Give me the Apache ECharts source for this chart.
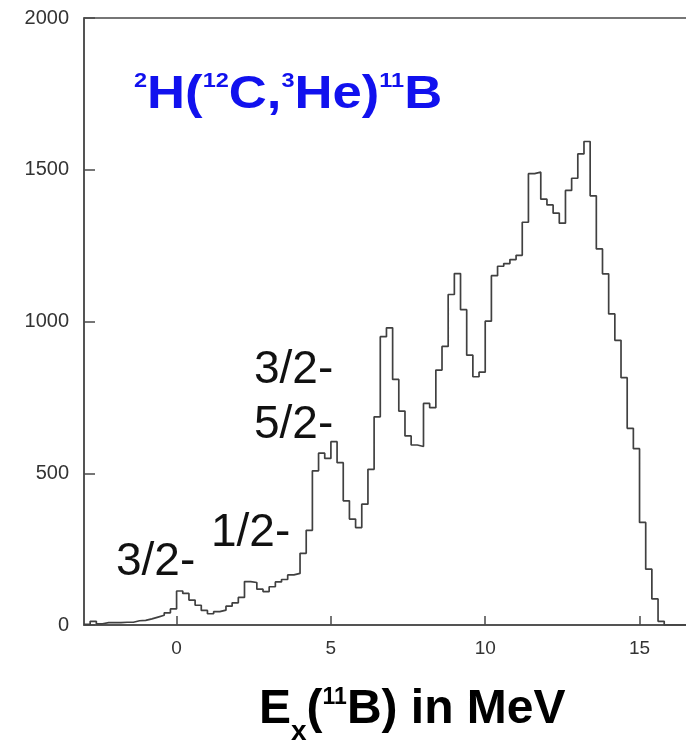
<!DOCTYPE html>
<html>
<head>
<meta charset="utf-8">
<script src="https://cdn.jsdelivr.net/npm/echarts@6/dist/echarts.min.js"></script>
<style>
  html, body { margin: 0; padding: 0; background: #fff; }
  #chart { width: 686px; height: 740px; }
</style>
</head>
<body>
<div id="chart"></div>
<script>
// left edge of each 0.2 MeV bin
var binLeft = [
  -3.0, -2.8, -2.6, -2.4, -2.2, -2.0, -1.8, -1.6, -1.4, -1.2,
  -1.0, -0.8, -0.6, -0.4, -0.2, 0.0, 0.2, 0.4, 0.6, 0.8,
  1.0, 1.2, 1.4, 1.6, 1.8, 2.0, 2.2, 2.4, 2.6, 2.8,
  3.0, 3.2, 3.4, 3.6, 3.8, 4.0, 4.2, 4.4, 4.6, 4.8,
  5.0, 5.2, 5.4, 5.6, 5.8, 6.0, 6.2, 6.4, 6.6, 6.8,
  7.0, 7.2, 7.4, 7.6, 7.8, 8.0, 8.2, 8.4, 8.6, 8.8,
  9.0, 9.2, 9.4, 9.6, 9.8, 10.0, 10.2, 10.4, 10.6, 10.8,
  11.0, 11.2, 11.4, 11.6, 11.8, 12.0, 12.2, 12.4, 12.6, 12.8,
  13.0, 13.2, 13.4, 13.6, 13.8, 14.0, 14.2, 14.4, 14.6, 14.8,
  15.0, 15.2, 15.4, 15.6, 15.8, 16.0, 16.2, 16.4, 16.6
];
// counts per bin
var counts = [
  2, 12, 4, 8, 8, 8, 9, 9, 14, 15,
  20, 26, 32, 40, 53, 112, 104, 82, 65, 48,
  37, 44, 49, 62, 73, 91, 143, 140, 118, 110,
  126, 142, 150, 165, 170, 236, 312, 508, 566, 549,
  604, 535, 409, 349, 321, 398, 513, 686, 950, 979,
  809, 705, 623, 593, 588, 730, 716, 840, 918, 1089,
  1158, 1039, 889, 818, 833, 1001, 1151, 1182, 1191, 1204,
  1218, 1327, 1487, 1492, 1403, 1384, 1357, 1324, 1432, 1472,
  1552, 1593, 1414, 1239, 1157, 1025, 938, 815, 648, 581,
  338, 184, 86, 12, 0, 0, 0, 0, 0
];
var xTicks = [0, 5, 10, 15];
var stateLabels = ["3/2-", "1/2-", "3/2-", "5/2-"];

var chart = echarts.init(document.getElementById("chart"));
var font = "Liberation Sans, Arial, Helvetica, sans-serif";
var axisColor = "#4a4a4a";

var data = [];
for (var i = 0; i < binLeft.length; i++) {
  data.push([binLeft[i], counts[i]]);
}

var option = {
  animation: false,
  backgroundColor: "#fff",
  grid: {
    left: 84,
    top: 18,
    width: 608,
    height: 607,
    outerBoundsMode: "none",
    containLabel: false,
    show: true,
    borderColor: axisColor,
    borderWidth: 1.5,
    backgroundColor: "transparent"
  },
  xAxis: {
    type: "value",
    min: -3,
    max: 16.7,
    splitLine: { show: false },
    axisLine: { show: true, onZero: false, lineStyle: { color: axisColor, width: 1.5 } },
    axisTick: {
      show: true,
      inside: true,
      length: 9,
      customValues: xTicks,
      lineStyle: { color: axisColor, width: 1.5 }
    },
    axisLabel: {
      customValues: xTicks,
      color: "#333",
      fontSize: 19,
      fontFamily: font,
      margin: 14
    }
  },
  yAxis: {
    type: "value",
    min: 0,
    max: 2000,
    interval: 500,
    splitLine: { show: false },
    axisLine: { show: true, onZero: false, lineStyle: { color: axisColor, width: 1.5 } },
    axisTick: {
      show: true,
      inside: true,
      length: 11,
      lineStyle: { color: axisColor, width: 1.5 }
    },
    axisLabel: {
      color: "#333",
      fontSize: 20,
      fontFamily: font,
      margin: 15,
      formatter: function (v) { return String(v); }
    }
  },
  series: [
    {
      type: "line",
      step: "end",
      data: data,
      showSymbol: false,
      clip: true,
      lineStyle: { color: "#404040", width: 1.7 }
    }
  ],
  graphic: [
    {
      type: "text",
      x: 134,
      y: 71,
      scaleX: 1.12,
      style: {
        x: 0,
        y: 0,
        verticalAlign: "top",
        text: "{s|2}{m|H(}{s|12}{m|C,}{s|3}{m|He)}{s|11}{m|B}",
        rich: {
          m: { fontSize: 47, fontWeight: "bold", fontFamily: font, fill: "#1111ee", lineHeight: 48, verticalAlign: "bottom" },
          s: { fontSize: 21, fontWeight: "bold", fontFamily: font, fill: "#1111ee", lineHeight: 40, verticalAlign: "top" }
        }
      }
    },
    {
      type: "text",
      left: 259,
      top: 686,
      style: {
        text: "{m|E}{b|x}{m|(}{s|11}{m|B) in MeV}",
        rich: {
          m: { fontSize: 48, fontWeight: "bold", fontFamily: font, fill: "#000", lineHeight: 50, verticalAlign: "top" },
          s: { fontSize: 23, fontWeight: "bold", fontFamily: font, fill: "#000", lineHeight: 36, verticalAlign: "top" },
          b: { fontSize: 28, fontWeight: "bold", fontFamily: font, fill: "#000", lineHeight: 30, verticalAlign: "bottom", padding: [0, 0, -10, 0] }
        }
      }
    },
    {
      type: "text",
      style: { x: 116, y: 562, text: stateLabels[0], fontSize: 46, fontFamily: font, fill: "#111", verticalAlign: "middle" }
    },
    {
      type: "text",
      style: { x: 211, y: 533, text: stateLabels[1], fontSize: 46, fontFamily: font, fill: "#111", verticalAlign: "middle" }
    },
    {
      type: "text",
      style: { x: 254, y: 370, text: stateLabels[2], fontSize: 46, fontFamily: font, fill: "#111", verticalAlign: "middle" }
    },
    {
      type: "text",
      style: { x: 254, y: 425, text: stateLabels[3], fontSize: 46, fontFamily: font, fill: "#111", verticalAlign: "middle" }
    }
  ]
};
chart.setOption(option);
</script>
</body>
</html>
